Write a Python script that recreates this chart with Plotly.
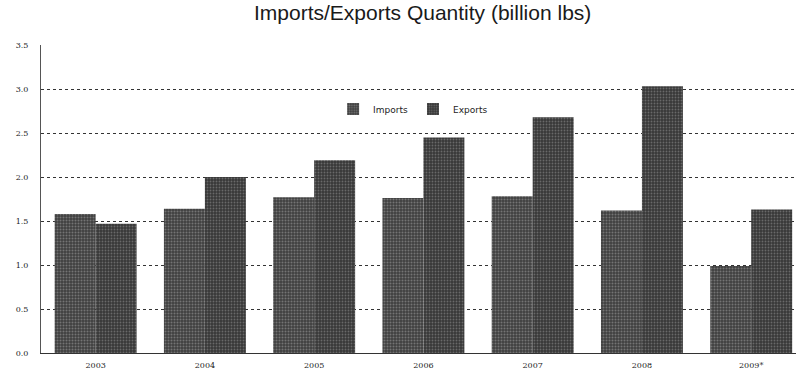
import plotly.graph_objects as go

years = ["2003", "2004", "2005", "2006", "2007", "2008", "2009*"]
imports = [1.58, 1.64, 1.77, 1.76, 1.78, 1.62, 0.99]
exports = [1.47, 2.00, 2.19, 2.45, 2.68, 3.03, 1.63]
yticks = [0.0, 0.5, 1.0, 1.5, 2.0, 2.5, 3.0, 3.5]

fig = go.Figure()
fig.add_trace(go.Bar(
    x=years, y=imports, name="Imports",
    marker=dict(color="#4a4a4a", line=dict(width=0),
                pattern=dict(shape=".", fgcolor="#a8a8a8", bgcolor="#404040", size=3, solidity=0.35)),
))
fig.add_trace(go.Bar(
    x=years, y=exports, name="Exports",
    marker=dict(color="#404040", line=dict(width=0),
                pattern=dict(shape=".", fgcolor="#9a9a9a", bgcolor="#383838", size=3, solidity=0.3)),
))

fig.update_layout(
    width=796, height=374,
    margin=dict(l=41, r=0, t=45, b=21, autoexpand=False),
    paper_bgcolor="white", plot_bgcolor="white",
    barmode="group", bargap=0.25, bargroupgap=0,
    title=dict(text="Imports/Exports Quantity (billion lbs)",
               font=dict(family="Liberation Sans, Arial", size=21, color="#1a1a1a"),
               x=0.531, xanchor="center", xref="container",
               y=0.985, yanchor="top", yref="container"),
    font=dict(family="DejaVu Sans, Liberation Sans", size=9, color="#222"),
    legend=dict(orientation="h", xref="container", yref="container",
                x=0.519, xanchor="center", y=1 - 109 / 374, yanchor="middle",
                font=dict(size=9, color="#222"), itemwidth=30,
                bgcolor="rgba(0,0,0,0)", traceorder="normal"),
    showlegend=True,
)
fig.update_yaxes(
    range=[0, 3.5], tickvals=yticks, tickformat=".1f",
    showgrid=True, gridcolor="#333", griddash="dot", gridwidth=1,
    zeroline=False, showline=True, linecolor="#555", linewidth=1,
    ticks="", ticklabelstandoff=10, automargin=False,
    tickfont=dict(family="DejaVu Serif, Liberation Serif", size=8, color="#222"),
)
fig.update_xaxes(
    range=[-0.5, 6.41], showgrid=False, showline=True, linecolor="#333", linewidth=1,
    ticks="", ticklabelstandoff=4, automargin=False,
    tickfont=dict(family="DejaVu Serif, Liberation Serif", size=8, color="#222"),
)

fig.write_html("out.html")
